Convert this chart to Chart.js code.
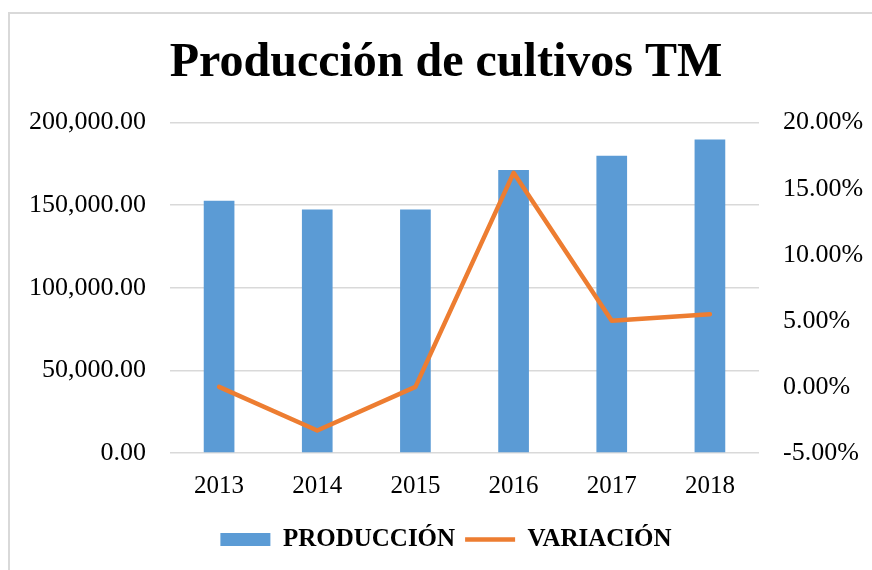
<!DOCTYPE html>
<html>
<head>
<meta charset="utf-8">
<script src="https://cdn.jsdelivr.net/npm/chart.js@4"></script>
<style>
    body { margin: 0; background: #fff; }
    #frame {
        position: absolute; left: 8px; top: 12px;
        width: 900px; height: 600px;
        border: 2px solid #d9d9d9;
    }
    #wrap { position: absolute; left: 0; top: 0; width: 872px; height: 570px; }
</style>
</head>
<body>
<div id="frame"></div>
<div id="wrap"><canvas id="chart"></canvas></div>
<script>
// Chart data
const years = ['2013', '2014', '2015', '2016', '2017', '2018'];
const produccion = [152700, 147400, 147400, 171300, 180000, 189700];
const variacion = [0, -3.3, 0, 16.2, 5.0, 5.5];

const serif = '"Liberation Serif", "Times New Roman", serif';

document.addEventListener('DOMContentLoaded', function () {
    const ctx = document.getElementById('chart').getContext('2d');
    new Chart(ctx, {
        data: {
            labels: years,
            datasets: [{
                type: 'bar',
                label: 'PRODUCCIÓN',
                data: produccion,
                backgroundColor: '#5b9bd5',
                categoryPercentage: 1,
                barPercentage: 0.3125,
                yAxisID: 'y',
                order: 2,
                pointStyle: 'rect'
            }, {
                type: 'line',
                label: 'VARIACIÓN',
                data: variacion,
                borderColor: '#ed7d31',
                backgroundColor: '#ed7d31',
                borderWidth: 4.5,
                borderCapStyle: 'round',
                borderJoinStyle: 'round',
                pointRadius: 0,
                tension: 0,
                yAxisID: 'y1',
                order: 1,
                pointStyle: 'line'
            }]
        },
        options: {
            responsive: true,
            maintainAspectRatio: false,
            animation: false,
            layout: { padding: { left: 20, right: 0, top: 0, bottom: 8 } },
            plugins: {
                title: {
                    display: true,
                    text: 'Producción de cultivos TM',
                    color: '#000',
                    font: { family: serif, size: 48, weight: 'bold' },
                    padding: { top: 35, bottom: 30 }
                },
                legend: {
                    position: 'bottom',
                    labels: {
                        color: '#000',
                        font: { family: serif, size: 25, weight: 'bold' },
                        usePointStyle: true,
                        pointStyleWidth: 50,
                        boxHeight: 13,
                        padding: 10,
                        // keep the bar series first, like the original
                        sort: (a, b) => a.datasetIndex - b.datasetIndex
                    }
                },
                tooltip: { enabled: false }
            },
            scales: {
                x: {
                    grid: { display: false },
                    border: { display: false },
                    ticks: {
                        color: '#000',
                        font: { family: serif, size: 25 },
                        padding: 10
                    },
                    afterFit: function (scale) { scale.height = 64; }
                },
                y: {
                    position: 'left',
                    min: 0,
                    max: 200000,
                    grid: { color: '#d9d9d9', lineWidth: 1.5, drawTicks: false },
                    border: { display: false },
                    ticks: {
                        stepSize: 50000,
                        color: '#000',
                        font: { family: serif, size: 26 },
                        padding: 24,
                        callback: function (v) {
                            return v.toLocaleString('en-US', { minimumFractionDigits: 2, maximumFractionDigits: 2 });
                        }
                    },
                    afterFit: function (scale) { scale.width = 150; }
                },
                y1: {
                    position: 'right',
                    min: -5,
                    max: 20,
                    grid: { display: false, drawTicks: false },
                    border: { display: false },
                    ticks: {
                        stepSize: 5,
                        color: '#000',
                        font: { family: serif, size: 26 },
                        padding: 24,
                        callback: function (v) { return v.toFixed(2) + '%'; }
                    },
                    afterFit: function (scale) { scale.width = 113; }
                }
            }
        }
    });
});
</script>
</body>
</html>
